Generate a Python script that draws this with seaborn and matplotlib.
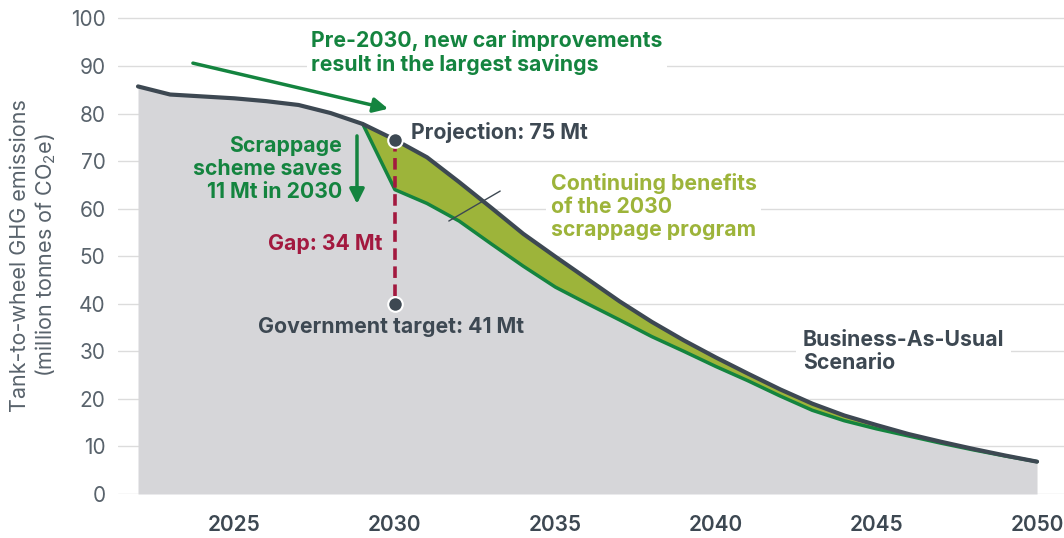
import numpy as np
import pandas as pd
import matplotlib
matplotlib.use("Agg")
import matplotlib.pyplot as plt
import seaborn as sns

# data
years = list(range(2022, 2051))
bau = [85.7, 84.0, 83.6, 83.2, 82.6, 81.8, 80.1, 77.8, 74.5, 70.8,
       65.6, 60.2, 54.7, 49.9, 45.2, 40.5, 36.2, 32.3, 28.7, 25.3,
       22.0, 19.0, 16.5, 14.5, 12.6, 11.0, 9.5, 8.1, 6.8]
scrap_years = list(range(2029, 2051))
scrappage = [77.8, 64.0, 61.1, 57.4, 52.6, 47.9, 43.5, 40.0, 36.6, 33.1,
             30.0, 26.8, 23.8, 20.6, 17.6, 15.4, 13.7, 12.2, 10.7, 9.3,
             8.0, 6.8]
marker_year = 2030
projection = 74.5
target = 40.0
xtick_years = [2025, 2030, 2035, 2040, 2045, 2050]
ytick_vals = list(range(0, 101, 10))

GREEN = "#14843f"
OLIVE = "#9db43a"
DARK = "#3d4852"
GREY_FILL = "#d6d6d9"
RED = "#a3193f"
TICK = "#59636c"

sns.set_style("white")
FONT = ["Inter", "DejaVu Sans"]
plt.rcParams["font.family"] = FONT
plt.rcParams["mathtext.fontset"] = "custom"
plt.rcParams["mathtext.rm"] = "Inter"
plt.rcParams["mathtext.it"] = "Inter"

df_bau = pd.DataFrame({"year": years, "value": bau})
df_scrap = pd.DataFrame({"year": scrap_years, "value": scrappage})
bau_after = df_bau[df_bau["year"] >= 2029]["value"].values

fig = plt.figure(figsize=(10.64, 5.38), dpi=100)
ax = fig.add_axes([0.111, 0.0818, 0.889, 0.8866])

# areas
ax.fill_between(df_bau["year"], 0, df_bau["value"], color=GREY_FILL, lw=0, zorder=1)
ax.fill_between(df_scrap["year"], df_scrap["value"], bau_after, color=OLIVE, lw=0, zorder=2)

# lines
sns.lineplot(data=df_scrap, x="year", y="value", color=GREEN, lw=2.5, ax=ax, zorder=3)
sns.lineplot(data=df_bau, x="year", y="value", color=DARK, lw=3, ax=ax, zorder=4)

# gap line and markers
ax.plot([marker_year, marker_year], [projection, target], color=RED, lw=2.6,
        dashes=(3.2, 1.8), zorder=5)
sns.scatterplot(x=[marker_year, marker_year], y=[projection, target], s=110,
                color=DARK, edgecolor="white", linewidth=1.5, ax=ax, zorder=6)

ax.set_xlim(2021.38, 2050.84)
ax.set_ylim(0, 100.3)
ax.set_yticks(ytick_vals)
ax.set_xticks(xtick_years)
ax.set_xticklabels([str(y) for y in xtick_years], fontweight="semibold", color=DARK)
ax.tick_params(axis="both", length=0, labelsize=15)
ax.tick_params(axis="y", labelcolor=TICK, pad=9)
ax.tick_params(axis="x", pad=15)
ax.yaxis.grid(True, color="#dcdcdc", lw=1)
ax.set_axisbelow(True)
for s in ax.spines.values():
    s.set_visible(False)
ax.set_xlabel("")
ax.set_ylabel("Tank-to-wheel GHG emissions\n(million tonnes of CO$_2$e)",
              fontsize=15.5, color=TICK, linespacing=1.15)
ax.yaxis.set_label_coords(-0.064, 0.5)

white_box = dict(facecolor="white", edgecolor="none", pad=3)
FS = 15.3
LS = 1.18

# annotations
ax.annotate("", xy=(2029.79, 81.0), xytext=(2023.71, 90.6),
            arrowprops=dict(arrowstyle="-|>", color=GREEN, lw=2.5,
                            mutation_scale=22, shrinkA=0, shrinkB=0), zorder=7)
ax.text(2027.4, 88.0, "Pre-2030, new car improvements\nresult in the largest savings",
        color=GREEN, fontsize=FS, fontweight="bold", ha="left", va="bottom",
        linespacing=LS, bbox=white_box, zorder=6)

ax.annotate("", xy=(2028.82, 61.0), xytext=(2028.82, 75.3),
            arrowprops=dict(arrowstyle="-|>", color=GREEN, lw=2.5,
                            mutation_scale=22, shrinkA=0, shrinkB=0), zorder=7)
ax.text(2028.35, 68.4, "Scrappage\nscheme saves\n11 Mt in 2030", color=GREEN,
        fontsize=FS, fontweight="bold", ha="right", va="center", linespacing=LS)

ax.text(2030.5, 76.0, "Projection: 75 Mt", color=DARK, fontsize=FS,
        fontweight="bold", ha="left", va="center")
ax.text(2029.6, 52.6, "Gap: 34 Mt", color=RED, fontsize=FS,
        fontweight="bold", ha="right", va="center")
ax.text(2025.75, 35.2, "Government target: 41 Mt", color=DARK, fontsize=FS,
        fontweight="bold", ha="left", va="center")

ax.plot([2031.68, 2033.28], [57.4, 63.7], color=DARK, lw=1, zorder=6)
ax.text(2034.85, 60.5, "Continuing benefits\nof the 2030\nscrappage program",
        color=OLIVE, fontsize=FS, fontweight="bold", ha="left", va="center",
        linespacing=LS, bbox=white_box, zorder=6)

ax.text(2042.7, 29.9, "Business-As-Usual\nScenario", color=DARK, fontsize=FS,
        fontweight="bold", ha="left", va="center", linespacing=LS,
        bbox=dict(facecolor="white", edgecolor="none", pad=5), zorder=6)

fig.savefig("out.png", dpi=100)
